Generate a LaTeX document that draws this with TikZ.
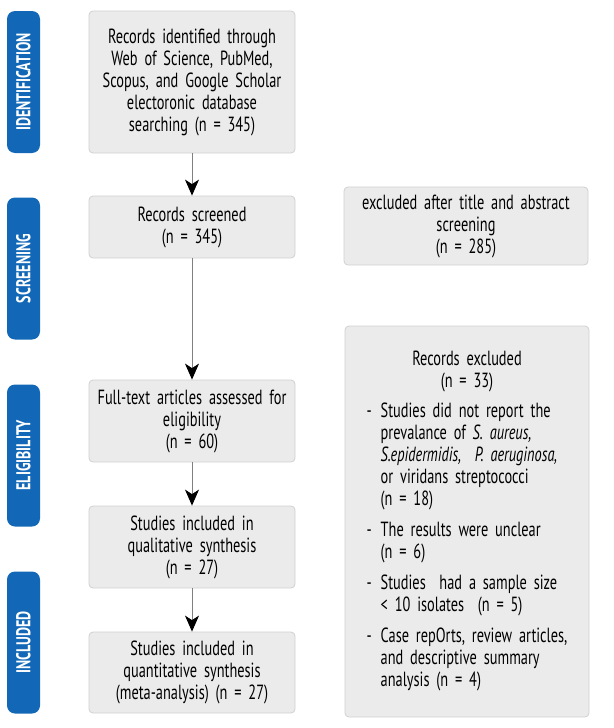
\documentclass[tikz,border=0pt]{standalone}
\usepackage{fontspec}
\setmainfont{PT Sans}[FakeStretch=0.7]
\usetikzlibrary{arrows.meta}
\definecolor{bandblue}{RGB}{18,104,182}
\definecolor{boxfill}{RGB}{235,235,235}
\definecolor{boxline}{RGB}{208,208,208}
\tikzset{
  flowbox/.style={draw=boxline, fill=boxfill, rounded corners=4pt, line width=0.8pt,
    align=center, inner xsep=5pt, inner ysep=0pt, text width=196pt,
    font=\fontsize{20.5}{22}\selectfont},
  sidebox/.style={flowbox, text width=234pt},
  band/.style={fill=bandblue, rounded corners=8pt, rotate=90, minimum width=142pt,
    minimum height=33pt, text=white, inner sep=0pt,
    font=\bfseries\fontsize{20}{22}\selectfont},
  flowarrow/.style={draw=gray, line width=1pt,
    -{Stealth[length=16pt,width=14pt,inset=4.5pt,black]}}
}
\begin{document}
\begin{tikzpicture}[x=1pt, y=-1pt]
  \useasboundingbox (0,0) rectangle (613,728);
  \node[band] (identification) at (23.5,82) {IDENTIFICATION};
  \node[band] (screening) at (23.5,268.5) {SCREENING};
  \node[band] (eligibility) at (23.5,455.5) {ELIGIBILITY};
  \node[band] (included) at (23.5,642.5) {INCLUDED};
  \node[flowbox, minimum height=142pt] (identified) at (192,82)
    {Records identified through\\Web of Science, PubMed,\\Scopus, and Google Scholar\\electoronic database\\searching (n = 345)};
  \node[flowbox, minimum height=62pt] (screened) at (192,227)
    {Records screened\\(n = 345)};
  \node[flowbox, minimum height=82pt] (fulltext) at (192,421)
    {Full-text articles assessed for\\eligibility\\(n = 60)};
  \node[flowbox, minimum height=82pt] (qualitative) at (192,547)
    {Studies included in\\qualitative synthesis\\(n = 27)};
  \node[flowbox, minimum height=81pt] (quantitative) at (192,672.5)
    {Studies included in\\quantitative synthesis\\(meta-analysis) (n = 27)};
  \node[sidebox, minimum height=78pt] (abstractexcl) at (466,226)
    {excluded after title and abstract\\screening\\(n = 285)};
  \node[sidebox, minimum height=391pt] (recordsexcl) at (467,521.5)
    {\begin{tabular}{@{}l@{\hspace{9pt}}l@{}}
      \multicolumn{2}{c}{Records excluded}\\
      \multicolumn{2}{c}{(n = 33)}\\[8pt]
      - & Studies did not report the\\
        & prevalance of \textit{S. aureus,}\\
        & \textit{S.epidermidis,\ \ P. aeruginosa,}\\
        & or viridans streptococci\\
        & (n = 18)\\[9pt]
      - & The results were unclear\\
        & (n = 6)\\[9pt]
      - & Studies\ \ had a sample size\\
        & < 10 isolates\ \ (n = 5)\\[9pt]
      - & Case repOrts, review articles,\\
        & and descriptive summary\\
        & analysis (n = 4)
    \end{tabular}};
  \draw[flowarrow] (identified) -- (screened);
  \draw[flowarrow] (screened) -- (fulltext);
  \draw[flowarrow] (fulltext) -- (qualitative);
  \draw[flowarrow] (qualitative) -- (quantitative);
\end{tikzpicture}
\end{document}
